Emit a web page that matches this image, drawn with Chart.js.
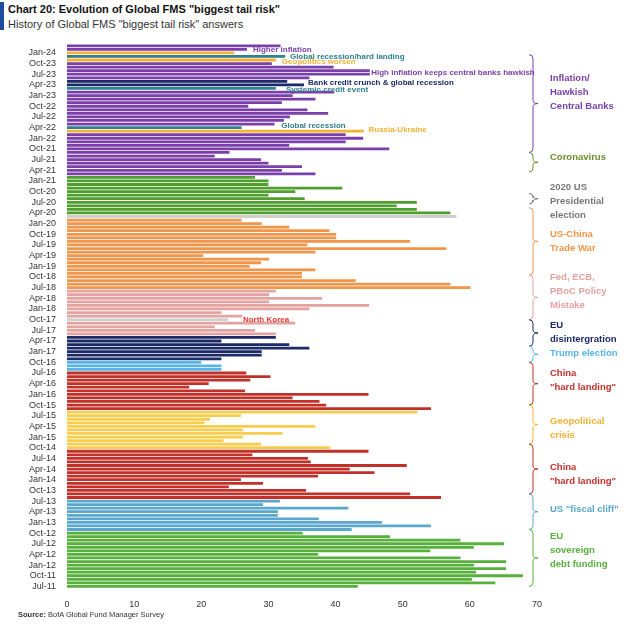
<!DOCTYPE html>
<html><head><meta charset="utf-8">
<script src="https://cdn.jsdelivr.net/npm/chart.js@4.4.1/dist/chart.umd.min.js"></script>
<style>
body{margin:0;background:#fff;font-family:"Liberation Sans",Arial,sans-serif;}
#wrap{position:relative;width:640px;height:633px;}
#bar{position:absolute;left:0;top:2px;width:4px;height:28px;background:#1f4e9c;}
#t1{position:absolute;left:8px;top:3px;font-size:11px;font-weight:bold;color:#111;font-family:"Liberation Sans Narrow","Liberation Sans",sans-serif;}
#t2{position:absolute;left:8px;top:18px;font-size:11px;color:#333;font-family:"Liberation Sans Narrow","Liberation Sans",sans-serif;}
#src{position:absolute;left:18px;top:610px;font-size:7.5px;color:#333;}
canvas{position:absolute;left:0;top:0;}
</style></head><body>
<div id="wrap">
<div id="bar"></div>
<div id="t1">Chart 20: Evolution of Global FMS "biggest tail risk"</div>
<div id="t2">History of Global FMS "biggest tail risk" answers</div>
<canvas id="c" width="640" height="633"></canvas>
<div id="src"><b>Source:</b> BofA Global Fund Manager Survey</div>
</div>
<script>
// Categories: monthly, from Mar-24 (top) down to Jul-11 (bottom)
const monthNames=["Jan","Feb","Mar","Apr","May","Jun","Jul","Aug","Sep","Oct","Nov","Dec"];
const months=[];
for(let y=2024,m=2;!(y===2011&&m<6);){months.push(monthNames[m]+"-"+String(y%100).padStart(2,"0"));m--;if(m<0){m=11;y--;}}
// Values (% of respondents), top to bottom
const values=[
31.8,26.8,24.9,32.5,31.1,30.5,39.7,45.1,45.1,36.1,32.8,35.3,31.1,39.8,33.6,37.0,32.0,27.0,35.8,38.9,33.2,32.3,30.9,26.0,44.2,41.5,44.1,41.5,33.1,48.0,24.2,
22.0,28.9,30.0,35.0,32.0,37.0,28.0,30.0,30.0,41.0,34.0,30.0,35.4,52.1,49.1,52.1,57.1,58.0,26.0,29.0,33.1,39.1,40.1,40.1,51.1,35.8,56.5,37.0,20.3,30.1,28.9,27.2,37.0,35.0,35.0,
43.0,57.1,60.1,31.1,30.1,38.0,30.1,45.0,36.1,23.0,26.1,24.0,34.0,22.0,28.0,31.1,31.1,23.0,33.1,36.1,29.0,29.0,23.0,20.0,23.0,23.0,26.7,30.3,27.3,21.1,18.2,26.5,44.9,33.6,37.6,
38.6,54.2,52.2,25.9,21.3,20.5,37.0,26.2,32.1,26.2,23.3,28.9,39.2,44.9,27.6,35.9,36.3,50.6,42.1,45.8,37.4,25.9,29.2,24.1,35.6,51.1,55.7,31.7,29.2,41.9,31.4,31.4,37.5,46.9,54.2,
42.4,35.1,48.1,58.6,65.1,60.6,54.1,37.4,58.6,65.4,60.6,65.4,60.9,67.9,60.3,63.8,43.3];
// Risk theme per bar
const themes=(
"PPYTYPPPPPNNTPPPPPPPPPPTYPPPPPP"+
"PPPPPPGGGGGGGGGGGROOOOOOOOOOOOOOOOO"+
"OOOKKKKKKKKRKKKKNNNNNNNBBBDDDDDDDDD"+
"DDWWWWWWWWWWWDDDDDDDDDDDDDDCCCCCCCC"+
"CEEEEEEEEEEEEEEEE").split("");
const palette={P:"#7a3fa8",Y:"#f2b233",T:"#2f7f8c",N:"#1c2a66",G:"#4f9e2e",R:"#cfcfcf",O:"#f0954a",K:"#e3a3a0",
 D:"#c2302a",B:"#56b4e6",W:"#f7cd4d",C:"#5aa7cc",E:"#58b03c"};
const inlineNotes=[
 ["Higher inflation",27.7,1.2,"#7a3fa8"],["Global recession/hard landing",33.2,3.1,"#2f7f8c"],
 ["Geopolitics worsen",32,4.6,"#f2b233"],["High inflation keeps central banks hawkish",45.3,7.5,"#7a3fa8"],
 ["Bank credit crunch & global recession",35.9,10.5,"#1c2a66"],["Systemic credit event",32.6,12.3,"#2f7f8c"],
 ["Global recession",31.9,22.6,"#2f7f8c"],["Russia-Ukraine",44.9,23.7,"#f2b233"],["North Korea",26.2,77,"#e8372c"]];
const groups=[
 [["Inflation/","Hawkish","Central Banks"],2.5,30,13,"#7a3fa8"],
 [["Coronavirus"],30,35.5,31.5,"#6e8c2c"],
 [["2020 US","Presidential","election"],41.5,44.5,43.7,"#777"],
 [["US-China","Trade War"],45.5,64.5,55,"#f0954a"],
 [["Fed, ECB,","PBoC Policy","Mistake"],64.5,77,69,"#e3a3a0"],
 [["EU","disintergration"],77,84.5,80.7,"#1c2a66"],
 [["Trump election"],84.5,89,86.6,"#56b4e6"],
 [["China","\"hard landing\""],89,101,94,"#c2302a"],
 [["Geopolitical","crisis"],101,112,107.5,"#f2b233"],
 [["China","\"hard landing\""],112,126,120.4,"#c2302a"],
 [["US \"fiscal cliff\""],126,136,130.4,"#5aa7cc"],
 [["EU","sovereign","debt funding"],136,152,142,"#58b03c"]];
const narrow='"Liberation Sans Narrow","Liberation Sans",sans-serif';
const notes={id:"notes",afterDraw(ch){
 const c=ch.ctx,x=ch.scales.x,y=ch.scales.y;
 c.save();c.font="bold 8px "+narrow;c.textBaseline="middle";
 inlineNotes.forEach(n=>{c.fillStyle=n[3];c.fillText(n[0],x.getPixelForValue(n[1]),y.getPixelForValue(n[2]));});
 groups.forEach(g=>{
  const y0=y.getPixelForValue(g[1]),y1=y.getPixelForValue(g[2]),ym=(y0+y1)/2,bx=x.right-4;
  c.strokeStyle=g[4];c.lineWidth=1;c.beginPath();
  c.moveTo(bx-4,y0);c.quadraticCurveTo(bx,y0,bx,y0+4);c.lineTo(bx,ym-3);c.quadraticCurveTo(bx,ym,bx+5,ym);
  c.quadraticCurveTo(bx,ym,bx,ym+3);c.lineTo(bx,y1-4);c.quadraticCurveTo(bx,y1,bx-4,y1);c.stroke();
  c.fillStyle=g[4];c.font="bold 9.5px "+narrow;
  const yc=y.getPixelForValue(g[3]),n=g[0].length;
  g[0].forEach((t,i)=>c.fillText(t,x.right+13,yc+(i-(n-1)/2)*14));
 });
 c.restore();}};
new Chart(document.getElementById("c"),{type:"bar",
 data:{labels:months,datasets:[{data:values,backgroundColor:themes.map(t=>palette[t]),barPercentage:0.78,categoryPercentage:1}]},
 options:{indexAxis:"y",responsive:false,animation:false,
  layout:{padding:{top:44,bottom:20,right:103,left:20}},
  plugins:{legend:{display:false},tooltip:{enabled:false}},
  scales:{
   x:{min:0,max:70,ticks:{stepSize:10,font:{size:9,family:narrow},color:"#333"},grid:{display:false},border:{display:false}},
   y:{afterFit(s){s.width=47;},grid:{display:false},border:{display:false},
      ticks:{autoSkip:false,padding:3,font:{size:9,family:narrow},color:"#333",
        callback(v){const l=months[v];return /^(Jan|Apr|Jul|Oct)/.test(l)?l:"";}}}}},
 plugins:[notes]});
</script></body></html>
